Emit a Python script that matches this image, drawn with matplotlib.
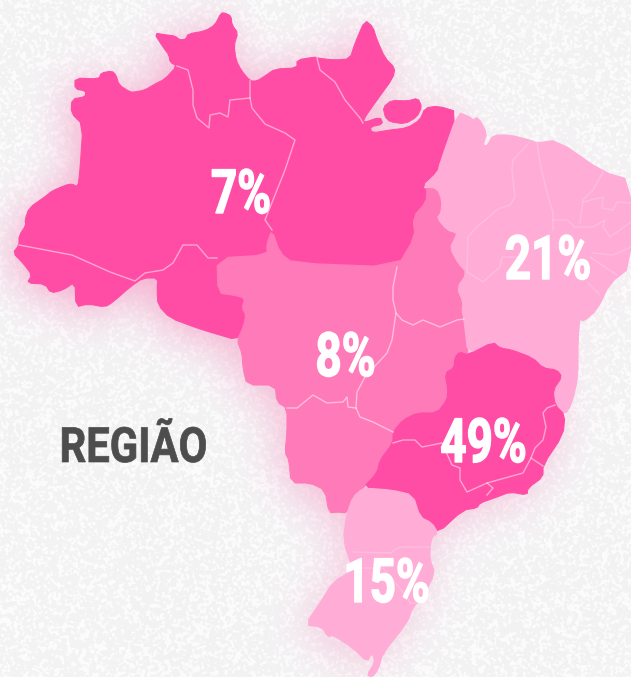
import numpy as np
import matplotlib
matplotlib.use('Agg')
import matplotlib.pyplot as plt
from matplotlib.patheffects import AbstractPathEffect
from matplotlib.transforms import Affine2D

W, H = 631, 677

# region shares
regions = ['Norte', 'Centro-Oeste', 'Nordeste', 'Sudeste', 'Sul']
shares = [7, 8, 21, 49, 15]
share_x = [241, 345.5, 548, 483.5, 386.5]
share_y = [213, 376, 279, 462, 602]
region_colors = ['#ff4da6', '#ff7ab9', '#ffadd6', '#ff4da6', '#ffadd6']
glow_weight = [1.0, 0.8, 0.12, 0.7, 0.6]
title = 'REGIÃO'

# outlines in picture pixels
norte = [(13,253),(19,245),(19,236),(26,225),(25,220),(29,208),(46,196),(52,191),(66,185),(72,184),(78,187),
         (80,170),(83,125),(71,113),(72,99),(85,97),(86,91),(75,89),(75,78),(99,79),(101,73),(112,71),(116,75),
         (119,85),(130,92),(135,92),(145,90),(155,84),(165,79),(177,66),(170,62),(169,55),(163,47),(154,33),
         (167,35),(175,36),(180,40),(186,39),(188,34),(205,31),(215,25),(221,13),(225,13),(231,16),(232,25),
         (238,33),(234,45),(236,60),(241,70),(250,81),(257,81),(265,76),(275,69),(297,68),(297,60),(315,57),
         (317,58),(333,60),(350,59),(355,43),(365,20),(373,27),(377,40),(385,58),(395,68),(393,78),(377,100),
         (365,117),(363,123),(380,117),(383,124),(370,127),(372,133),(390,130),(407,128),(420,120),(425,108),
         (438,106),(458,112),(440,163),(438,172),(422,187),(427,190),(426,202),(413,217),(415,237),(397,267),
         (293,263),(280,253),(272,230),(267,243),(267,255),(217,258),(218,293),(233,295),(245,298),(242,308),
         (246,315),(243,328),(237,340),(213,333),(197,328),(170,318),(158,305),(157,290),(158,278),(143,278),
         (130,287),(113,302),(105,307),(88,304),(76,307),(75,282),(63,290),(51,293),(45,284),(27,283),(32,275),
         (23,263)]
marajo = [(383,107),(392,100),(407,101),(418,98),(422,107),(417,117),(405,124),(390,122),(385,117)]
centro = [(272,230),(280,253),(293,263),(397,267),(415,237),(413,217),(426,202),(427,190),(425,188),(437,188),
          (442,200),(441,213),(437,218),(447,230),(457,233),(455,238),(450,248),(458,263),(467,273),(457,288),
          (463,302),(462,310),(464,320),(467,340),(468,355),(460,352),(455,357),(454,368),(445,373),(448,390),
          (447,400),(437,413),(417,413),(403,420),(393,432),(393,443),(380,460),(377,473),(363,488),(353,497),
          (347,513),(338,512),(329,513),(325,490),(310,483),(291,483),(289,460),(285,453),(287,433),(287,408),
          (277,402),(275,385),(247,385),(243,368),(242,353),(237,340),(243,328),(246,315),(242,308),(245,298),
          (233,295),(218,293),(217,258),(267,255),(267,243)]
sudeste = [(393,432),(403,420),(417,413),(437,413),(447,400),(448,390),(445,373),(454,368),(455,357),(460,352),
           (468,355),(493,342),(500,348),(512,350),(533,358),(543,368),(557,370),(562,377),(553,390),(555,405),
           (565,415),(563,435),(543,465),(543,477),(528,488),(527,495),(510,492),(497,497),(480,503),(477,508),
           (463,510),(438,533),(432,523),(420,517),(413,495),(392,490),(363,488),(377,473),(380,460),(393,443)]
sul = [(363,488),(392,490),(413,495),(420,517),(432,523),(438,533),(432,537),(430,547),(430,560),(435,573),
       (423,597),(413,607),(407,623),(383,653),(378,670),(372,677),(367,675),(375,662),(372,653),(367,662),
       (353,648),(333,635),(328,637),(322,627),(305,625),(322,600),(333,582),(353,570),(343,540),(347,513),(353,497)]
nordeste = [(458,112),(470,117),(473,120),(478,117),(487,133),(483,145),(487,146),(493,135),(510,135),(530,140),
            (537,143),(557,140),(603,172),(631,180),(631,267),(610,283),(597,310),(583,322),(580,317),(578,340),
            (578,377),(572,403),(565,415),(555,405),(553,390),(562,377),(557,370),(543,368),(533,358),(512,350),
            (500,348),(493,342),(468,355),(464,320),(462,310),(463,302),(457,288),(467,273),(458,263),(450,248),
            (455,238),(457,233),(447,230),(437,218),(441,213),(442,200),(437,188),(422,187),(438,172),(440,163)]
shapes = [norte, centro, nordeste, sudeste, sul]

# state borders, the stronger ones
borders = [
    [(19,245),(72,255),(110,272),(135,281),(145,273),(163,270),(173,263),(183,245),(197,245),(208,258),(217,258)],
    [(177,66),(188,70),(193,90),(193,105),(197,118),(209,128),(210,115),(220,113),(228,117),(230,100),(250,98),(250,81)],
    [(250,98),(252,108),(265,124),(285,133),(295,140),(285,170),(265,220),(272,230)],
    [(317,58),(320,70),(335,82),(345,100),(360,118),(363,123)],
    [(397,267),(393,287),(393,300),(396,313),(392,340),(387,353),(365,377),(357,392),(356,408)],
    [(396,313),(402,320),(413,325),(423,320),(440,327),(457,320),(464,319)],
    [(287,408),(297,408),(313,395),(327,403),(343,402),(347,397),(348,407),(356,408),(360,417),(373,422),(393,432)],
    [(393,443),(403,440),(415,440),(422,447),(442,443),(452,465),(460,468),(460,480),(467,492),(487,483),(523,473),(531,458),(543,466)],
    [(555,405),(547,408),(543,413),(546,427),(543,440),(535,448),(531,458)],
    [(487,483),(493,488),(487,495)],
]
# fainter ones in the two light regions
faint_borders = [
    [(353,552),(390,553),(400,547),(430,547)],
    [(353,568),(383,568),(407,597),(410,603),(423,603)],
    [(530,142),(513,160),(512,170),(515,197),(510,205),(498,209),(477,227),(468,237),(467,272),(483,282),(500,267),(502,257),(517,257)],
    [(537,143),(540,163),(547,193),(553,213),(553,230)],
    [(553,220),(567,220),(575,227),(593,227),(605,220),(603,227),(610,237),(631,222)],
    [(603,172),(593,190),(583,200),(580,223)],
    [(583,202),(603,197),(602,208),(613,210),(617,202),(631,203)],
    [(593,253),(613,255),(631,247)],
    [(590,257),(617,275)],
    [(588,283),(600,295)],
]


class Squeeze(AbstractPathEffect):
    # narrows the glyphs around cx, there is no condensed face installed
    def __init__(self, cx, k, stroke=0.0):
        super().__init__()
        self.cx = cx
        self.k = k
        self.stroke = stroke

    def draw_path(self, renderer, gc, tpath, affine, rgbFace=None):
        t = affine + Affine2D().translate(-self.cx, 0).scale(self.k, 1).translate(self.cx, 0)
        gc0 = renderer.new_gc()
        gc0.copy_properties(gc)
        gc0.set_foreground(rgbFace)
        gc0.set_linewidth(self.stroke)
        renderer.draw_path(gc0, tpath, t, rgbFace)
        gc0.restore()


def blur(a, sigma):
    fy = np.fft.fftfreq(a.shape[0])[:, None]
    fx = np.fft.rfftfreq(a.shape[1])[None, :]
    g = np.exp(-2 * (np.pi * sigma) ** 2 * (fx ** 2 + fy ** 2))
    return np.fft.irfft2(np.fft.rfft2(a) * g, s=a.shape)


def soften(pts, q=0.22):
    # one round of corner cutting, the source outlines are not so angular
    p = np.array(pts, dtype=float)
    n = np.roll(p, -1, axis=0)
    out = np.empty((len(p) * 2, 2))
    out[0::2] = p + (n - p) * q
    out[1::2] = p + (n - p) * (1 - q)
    return out


# gray mask of the map, used for the pink glow behind it
mfig = plt.figure(figsize=(W / 100, H / 100), dpi=100, facecolor='black')
max_ = mfig.add_axes([0, 0, 1, 1])
max_.set_xlim(0, W)
max_.set_ylim(H, 0)
max_.axis('off')
for s, w in zip(shapes, glow_weight):
    p = np.array(s)
    max_.fill(p[:, 0] - 6, p[:, 1] + 6, color=str(w), lw=0)
mfig.canvas.draw()
mask = np.asarray(mfig.canvas.buffer_rgba())[:, :, 0] / 255.0
plt.close(mfig)
glow = np.clip(blur(np.pad(mask, 90, mode='constant'), 22)[90:-90, 90:-90], 0, 1)

# speckled paper texture, then the glow over it
rng = np.random.default_rng(3)
tex = blur(rng.normal(size=(H, W)), 1.0)
tex = np.clip((tex - np.percentile(tex, 50)) / tex.std() * 1.0, 0, 1)
base = np.array([243, 243, 244]) / 255.0
bg = base + (1 - base) * tex[:, :, None] * 0.75
pink = np.array([246, 170, 205]) / 255.0
a = np.clip(glow * 1.0, 0, 0.8)[:, :, None]
bg = bg * (1 - a) + pink * a

fig = plt.figure(figsize=(W / 100, H / 100), dpi=100)
ax = fig.add_axes([0, 0, 1, 1])
ax.imshow(bg, extent=(0, W, H, 0), interpolation='nearest', zorder=0)
for s, c in zip(shapes, region_colors):
    p = soften(s)
    ax.fill(p[:, 0], p[:, 1], color=c, lw=0.8, joinstyle='round', zorder=2)
p = soften(marajo)
ax.fill(p[:, 0], p[:, 1], color=region_colors[0], lw=0.6, zorder=2)
for b in borders:
    p = np.array(b)
    ax.plot(p[:, 0], p[:, 1], color='white', alpha=0.5, lw=1.0, solid_joinstyle='round', zorder=3)
for b in faint_borders:
    p = np.array(b)
    ax.plot(p[:, 0], p[:, 1], color='white', alpha=0.2, lw=1.0, solid_joinstyle='round', zorder=3)

for v, x, y in zip(shares, share_x, share_y):
    t = ax.text(x, y, f'{v}%', color='white', fontsize=44, fontweight='bold', family='Roboto',
                ha='center', va='baseline', zorder=4)
    t.set_path_effects([Squeeze(x, 0.75, 1.0)])
t = ax.text(133.5, 462, title, color='#4d4d4d', fontsize=35, fontweight='bold', family='Roboto',
            ha='center', va='baseline', zorder=4)
t.set_path_effects([Squeeze(133.5, 0.86, 0.5)])

ax.set_xlim(0, W)
ax.set_ylim(H, 0)
ax.axis('off')
fig.savefig('out.png', dpi=100)
